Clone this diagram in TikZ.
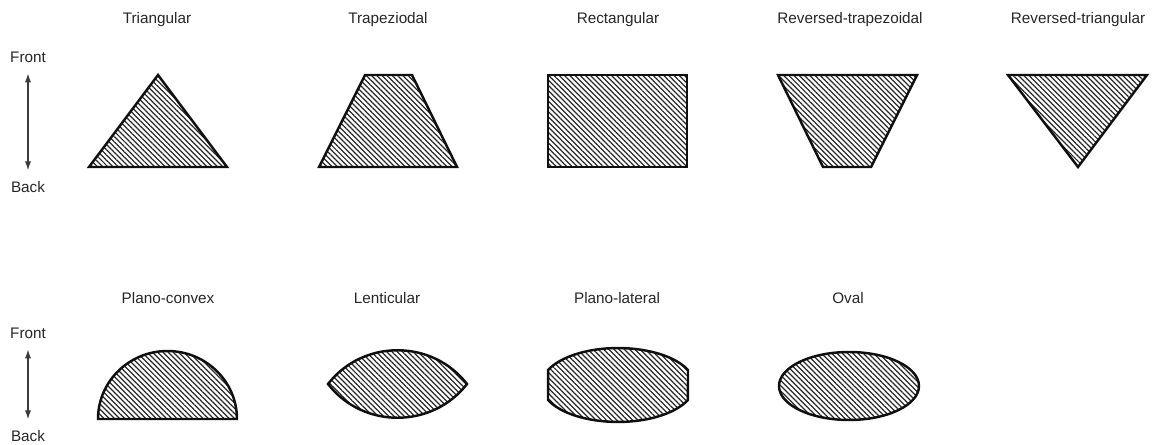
\documentclass[tikz,border=0pt]{standalone}
\usepackage{fontspec}
\setmainfont{Liberation Sans}
\usepackage{tikz}
\usetikzlibrary{arrows.meta, patterns.meta}
\definecolor{myline}{RGB}{15,15,15}
\definecolor{myhatch}{RGB}{40,40,40}
\definecolor{myarrow}{RGB}{60,60,60}
\tikzdeclarepattern{
  name=hatch,
  type=uncolored,
  bounding box={(0pt,-1pt) and (2pt,1pt)},
  tile size={(2pt,2.1pt)},
  tile transformation={rotate=-45},
  code={\draw[line width=0.7pt] (-0.1pt,0pt) -- (2.1pt,0pt);}
}
\tikzset{
  section/.style={draw=myline, line width=1.4pt, line join=miter,
    pattern=hatch, pattern color=myhatch},
  shapename/.style={font=\fontsize{8.7}{10}\selectfont, text=black!85},
  dirname/.style={font=\fontsize{8.7}{10}\selectfont, text=black!85},
  frontback/.style={{Latex[length=5pt,width=3.5pt]}-{Latex[length=5pt,width=3.5pt]},
    line width=0.6pt, color=myarrow, shorten <=0.1cm, shorten >=0.1cm}
}
\begin{document}
\begin{tikzpicture}[x=0.02cm, y=-0.02cm]
  \useasboundingbox (0,0) rectangle (1159,445);

  % Direction
  \node[dirname] (front1) at (28,57) {Front};
  \node[dirname] (back1) at (28,187) {Back};
  \draw[frontback] (front1) -- (back1);
  \node[dirname] (front2) at (28,333) {Front};
  \node[dirname] (back2) at (28,436) {Back};
  \draw[frontback] (front2) -- (back2);

  % Top row names
  \node[shapename] (tri) at (157,20) {Triangular};
  \node[shapename] (trap) at (388,20) {Trapeziodal};
  \node[shapename] (rect) at (618,20) {Rectangular};
  \node[shapename] (rtrap) at (850,20) {Reversed-trapezoidal};
  \node[shapename] (rtri) at (1078,20) {Reversed-triangular};

  % Top row sections
  \draw[section] (158,75) -- (227,167) -- (89,167) -- cycle;
  \draw[section] (365,75) -- (412,75) -- (457,167) -- (319,167) -- cycle;
  \draw[section] (548,75) rectangle (687,167);
  \draw[section] (778,75) -- (917,75) -- (871,167) -- (823,167) -- cycle;
  \draw[section] (1008,75) -- (1147,75) -- (1078,167) -- cycle;

  % Bottom row names
  \node[shapename] (pconv) at (168,298) {Plano-convex};
  \node[shapename] (lent) at (387,298) {Lenticular};
  \node[shapename] (plat) at (617,298) {Plano-lateral};
  \node[shapename] (oval) at (848,298) {Oval};

  % Bottom row sections
  \draw[section] (98,419) arc[start angle=180, end angle=0, x radius=1.39cm, y radius=1.36cm] -- cycle;
  \draw[section] (328,384) .. controls (363,339) and (432,339) .. (467,384)
    .. controls (432,429) and (363,429) .. (328,384) -- cycle;
  \draw[section] (688,370) arc[start angle=24, end angle=156, x radius=1.532cm, y radius=0.74cm]
    -- (548,400) arc[start angle=204, end angle=336, x radius=1.532cm, y radius=0.74cm] -- cycle;
  \draw[section] (849,386) ellipse[x radius=1.4cm, y radius=0.68cm];
\end{tikzpicture}
\end{document}
